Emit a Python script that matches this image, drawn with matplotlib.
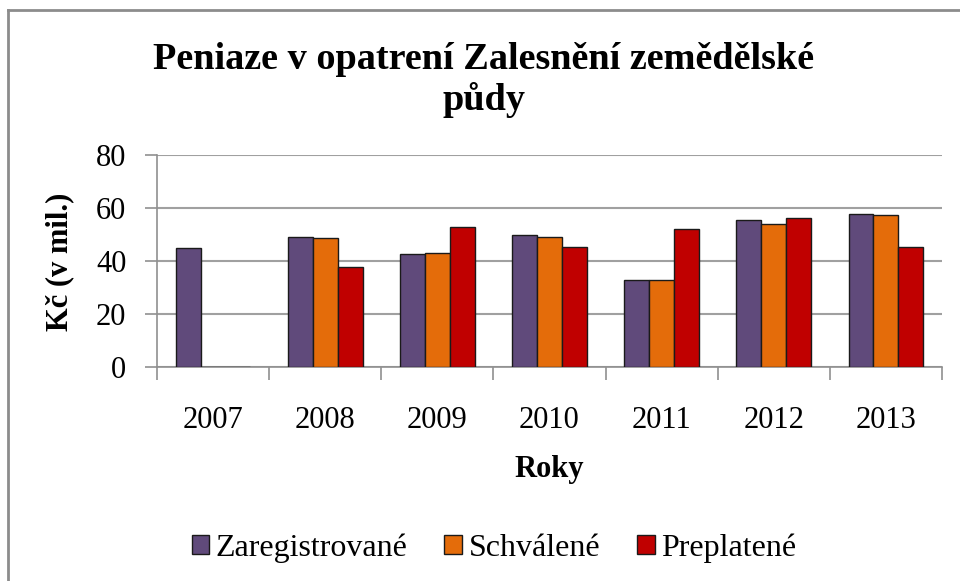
import matplotlib
matplotlib.use("Agg")
import matplotlib.pyplot as plt
import numpy as np
from matplotlib.lines import Line2D

years = ["2007", "2008", "2009", "2010", "2011", "2012", "2013"]
zaregistrovane = [45.0, 49.0, 42.6, 49.9, 32.7, 55.3, 57.8]
schvalene = [0, 48.5, 43.1, 49.0, 32.7, 53.8, 57.2]
preplatene = [0, 37.8, 52.9, 45.1, 51.9, 56.3, 45.1]
series_names = ["Zaregistrované", "Schválené", "Preplatené"]
colors = ["#604A7B", "#E46C0A", "#C00000"]

plt.rcParams['font.family'] = ['Liberation Serif', 'DejaVu Serif']

fig = plt.figure(figsize=(9.6, 5.81), dpi=100)
ax = fig.add_axes([157/960, 1-367/581, (942-157)/960, (367-155)/581])

x = np.arange(len(years))
w = 1/4.5
for i, (vals, name, c) in enumerate(zip([zaregistrovane, schvalene, preplatene], series_names, colors)):
    ax.bar(x + (i-1)*w, vals, width=w, color=c, edgecolor="#1a1a1a", linewidth=1.0, label=name, zorder=3)

ax.set_xlim(-0.5, len(years)-0.5)
ax.set_ylim(0, 80)
ax.set_yticks([0, 20, 40, 60, 80])
ax.set_xticks(np.arange(-0.5, len(years)+0.5, 1), minor=False)
ax.set_xticklabels([])
ax.set_xticks(x, minor=True)
ax.set_xticklabels(years, minor=True)
ax.tick_params(axis='x', which='major', length=9, direction='out', color='#909090', width=1.2)
ax.tick_params(axis='x', which='minor', length=0, pad=28, labelsize=22)
ax.tick_params(axis='y', length=9, direction='out', color='#909090', width=1.2, labelsize=22, pad=13)
ax.grid(axis='y', color='#a0a0a0', linewidth=1.5, zorder=0)
for s in ['top', 'right']:
    ax.spines[s].set_visible(False)
for s in ['left', 'bottom']:
    ax.spines[s].set_color('#909090')
    ax.spines[s].set_linewidth(1.2)

fig.text(60/960, 1-262/581, "Kč (v mil.)", rotation=90, ha='center', va='center', fontsize=22, fontweight='bold')
fig.text(549/960, 1-470/581, "Roky", ha='center', va='center', fontsize=22, fontweight='bold')
fig.text(484/960, 1-80/581, "Peniaze v opatrení Zalesnění zemědělské\npůdy", ha='center', va='center',
         fontsize=27.5, fontweight='bold', linespacing=1.15)

fig.legend(loc='center', bbox_to_anchor=(494/960, 1-548/581), ncol=3, frameon=False, fontsize=23,
           handlelength=0.56, handleheight=0.56, handletextpad=0.2, columnspacing=1.15,
           borderpad=0, borderaxespad=0)

fig.add_artist(Line2D([8/960, 1], [1-10/581, 1-10/581], transform=fig.transFigure, color='#8c8c8c', linewidth=2))
fig.add_artist(Line2D([8/960, 8/960], [0, 1-10/581], transform=fig.transFigure, color='#8c8c8c', linewidth=2))

fig.savefig("out.png", dpi=100)
